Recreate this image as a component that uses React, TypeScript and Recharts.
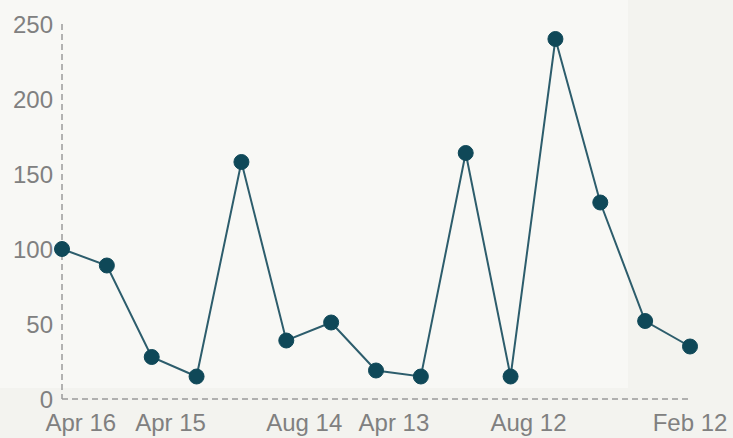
import React from 'react';
import { LineChart, Line, XAxis, YAxis } from 'recharts';

const pointIndex = [0, 1, 2, 3, 4, 5, 6, 7, 8, 9, 10, 11, 12, 13, 14];
const values = [100, 89, 28, 15, 158, 39, 51, 19, 15, 164, 15, 240, 131, 52, 35];
const xTickPositions = [0.42, 2.42, 5.4, 7.4, 10.4, 14];
const xTickLabels = ['Apr 16', 'Apr 15', 'Aug 14', 'Apr 13', 'Aug 12', 'Feb 12'];
const yTicks = [0, 50, 100, 150, 200, 250];

const data = pointIndex.map((i, k) => ({ i, v: values[k] }));

const fontFamily = '"Liberation Sans", Arial, sans-serif';
const tickStyle = { fill: '#808080', fontSize: 24, fontFamily };

export default function App() {
  return (
    <div style={{ position: 'absolute', left: 0, top: 0, width: 733, height: 438, background: '#f3f3ef', overflow: 'hidden' }}>
      <div style={{ position: 'absolute', left: 0, top: 0, width: 628, height: 388, background: '#f8f8f5' }} />
      <div style={{ position: 'absolute', left: 0, top: 0 }}>
        <LineChart width={733} height={438} data={data} margin={{ top: 24, right: 43, bottom: 0, left: 0 }}>
          <XAxis
            dataKey="i"
            type="number"
            domain={[0, 14]}
            ticks={xTickPositions}
            tickFormatter={(v: number) => xTickLabels[xTickPositions.indexOf(v)] ?? ''}
            interval={0}
            height={39}
            tickLine={false}
            tickMargin={9}
            axisLine={{ stroke: '#9a9a9a', strokeWidth: 1.5, strokeDasharray: '6 4' }}
            tick={tickStyle}
          />
          <YAxis
            type="number"
            domain={[0, 250]}
            ticks={yTicks}
            interval={0}
            width={62}
            tickLine={false}
            tickMargin={3}
            axisLine={{ stroke: '#9a9a9a', strokeWidth: 1.5, strokeDasharray: '6 4' }}
            tick={tickStyle}
          />
          <Line
            type="linear"
            dataKey="v"
            stroke="#2d5d6c"
            strokeWidth={2}
            dot={{ r: 7.5, fill: '#0f4858', stroke: '#0f4858', strokeWidth: 1 }}
            isAnimationActive={false}
          />
        </LineChart>
      </div>
    </div>
  );
}
